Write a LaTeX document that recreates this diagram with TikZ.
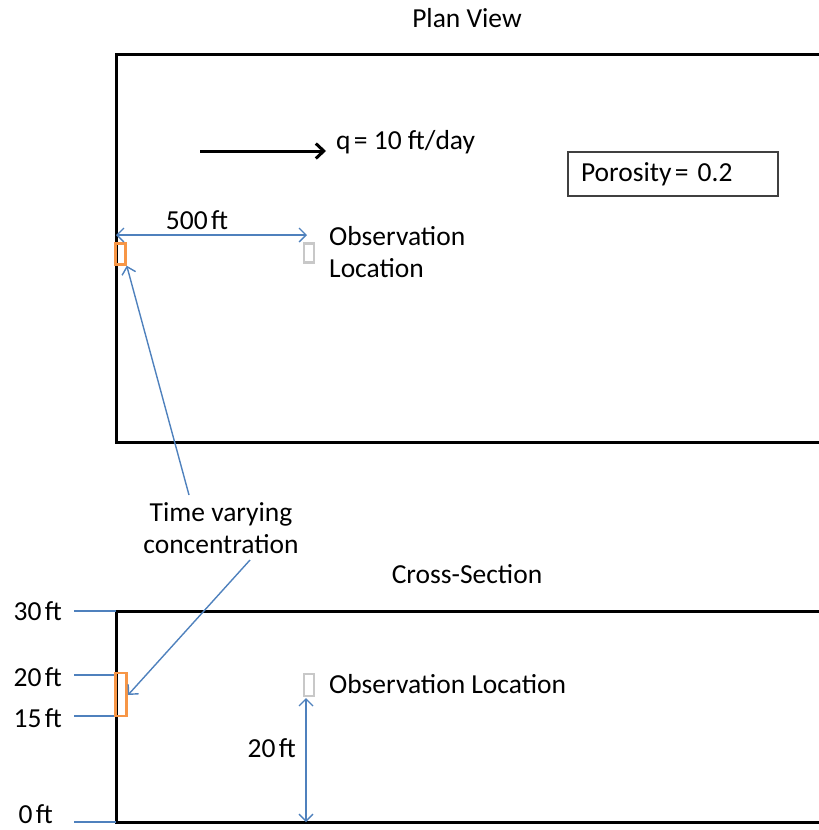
\documentclass[tikz,border=0pt]{standalone}
\usepackage{fontspec}
\setmainfont{Carlito}
\usetikzlibrary{arrows.meta}
\definecolor{dimblue}{RGB}{79,129,189}
\definecolor{srcorange}{RGB}{247,150,70}
\definecolor{obsgray}{RGB}{200,200,200}
\newcommand{\tightsp}{\hspace{0.12em}}
\tikzset{
  txt/.style={font=\fontsize{27.5}{31}\selectfont, inner sep=0pt},
  wall/.style={line width=3pt, black},
  dim/.style={dimblue, line width=1.4pt, {Straight Barb[length=7pt,width=14pt]}-{Straight Barb[length=7pt,width=14pt]}},
  lead/.style={dimblue, line width=1.4pt, -{Straight Barb[length=7pt,width=14pt]}},
  tick/.style={dimblue, line width=1.4pt},
  src/.style={draw=srcorange, line width=2.5pt},
  obs/.style={draw=obsgray, line width=2.5pt},
}
\begin{document}
\begin{tikzpicture}[x=1pt,y=-1pt]
\useasboundingbox (0,0) rectangle (819,830);

% ---------- plan view ----------
\node[txt] (plantitle) at (467,18) {Plan View};
\draw[wall] (830,54) -- (116,54) -- (116,442) -- (830,442);

\coordinate (qs) at (200,151);
\coordinate (qe) at (326,151);
\draw[line width=3pt, -{Straight Barb[length=8pt,width=15pt]}] (qs) -- (qe);
\node[txt, anchor=west] (qlab) at (336,142) {q\tightsp= 10 ft/day};

\node[txt, draw=black!75, line width=2pt, minimum width=210pt, minimum height=44pt, inner xsep=13pt, anchor=west, text width=184pt] (poro) at (567,174) {Porosity\tightsp= 0.2};

\node[src, minimum width=10pt, minimum height=21pt, inner sep=0pt] (srcA) at (120.5,254) {};
\node[obs, minimum width=10pt, minimum height=19pt, inner sep=0pt] (obsA) at (309,253) {};
\node[txt, anchor=west, align=left] (obsAlab) at (329,252) {Observation\\[1pt]Location};

\coordinate (dA) at (116,235);
\coordinate (dB) at (307,235);
\draw[dim] (dA) -- (dB);
\node[txt] (d500) at (197,220) {500\tightsp ft};

% ---------- label for both source patches ----------
\node[txt, align=center] (tvc) at (221,528) {Time varying\\[1pt]concentration};
\draw[lead] (189,495) -- (srcA.south east);

% ---------- cross-section ----------
\node[txt] (xtitle) at (467,574) {Cross-Section};
\draw[wall] (830,611) -- (116,611) -- (116,822) -- (830,822);

\coordinate (t30) at (116,611);
\coordinate (t20) at (116,675);
\coordinate (t15) at (116,716);
\coordinate (t0) at (116,822);
\draw[tick] (74,611) -- (t30);
\draw[tick] (74,675) -- (t20);
\draw[tick] (74,716) -- (t15);
\draw[tick] (74,822) -- (t0);
\node[txt, anchor=east] (l30) at (62,611) {30\tightsp ft};
\node[txt, anchor=east] (l20) at (62,677) {20\tightsp ft};
\node[txt, anchor=east] (l15) at (62,718) {15\tightsp ft};
\node[txt, anchor=east] (l0) at (53,814) {0\tightsp ft};

\node[src, minimum width=11pt, minimum height=43pt, inner sep=0pt] (srcB) at (121,694.5) {};
\draw[lead] (250,560) -- (128,695);

\node[obs, minimum width=10pt, minimum height=22pt, inner sep=0pt] (obsB) at (309,685) {};
\node[txt, anchor=west] (obsBlab) at (329,684) {Observation Location};

\coordinate (vA) at (306,698);
\coordinate (vB) at (306,822);
\draw[dim] (vA) -- (vB);
\node[txt, anchor=east] (d20) at (296,748) {20\tightsp ft};
\end{tikzpicture}
\end{document}
